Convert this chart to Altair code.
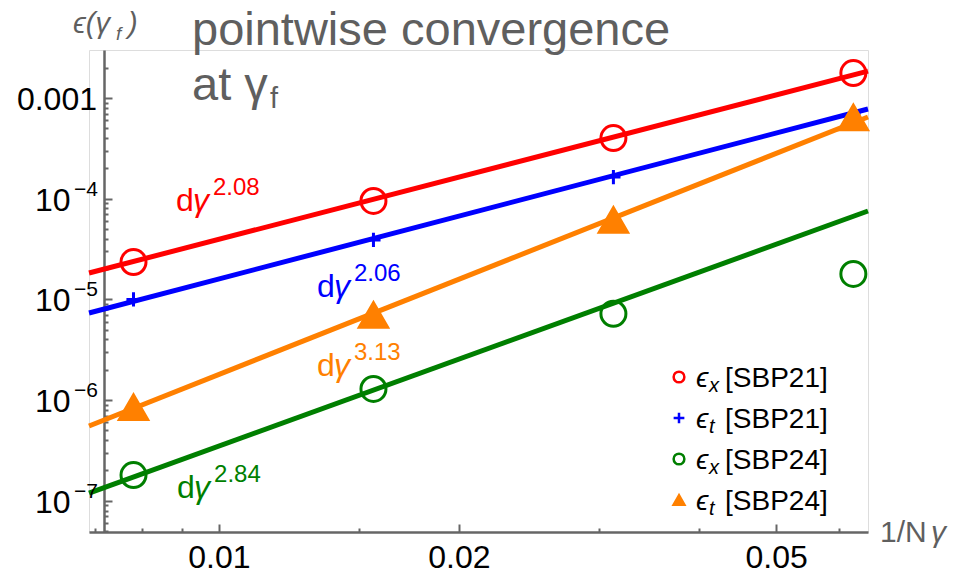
import altair as alt
import pandas as pd

# ---------------- data ----------------
x_vals = [1/128, 1/64, 1/32, 1/16]
ex_sbp21 = [2.35e-5, 9.5e-5, 4.0e-4, 1.77e-3]
et_sbp21 = [1.0e-5, 3.9e-5, 1.64e-4, 7.0e-4]
ex_sbp24 = [1.8e-7, 1.29e-6, 7.2e-6, 1.79e-5]
et_sbp24 = [8.5e-7, 7.0e-6, 6.15e-5, 6.4e-4]

series = ["ϵx[SBP21]", "ϵt[SBP21]", "ϵx[SBP24]", "ϵt[SBP24]"]
leg_sub = ["x", "t", "x", "t"]
leg_tag = ["[SBP21]", "[SBP21]", "[SBP24]", "[SBP24]"]
colors = ["#FF0000", "#0000FF", "#007F00", "#FF8000"]
shapes = ["circle", "M-1,0H1M0,-1V1", "circle", "triangle-up"]
fills = ["transparent", "transparent", "transparent", "#FF8000"]
sizes = [625, 200, 625, 800]

# fitted power-law lines (end points)
fit_x = [0.00687, 0.0652]
fit_ex21 = [1.83e-5, 1.85e-3]
fit_et21 = [7.33e-6, 7.78e-4]
fit_ex24 = [1.19e-7, 7.55e-5]
fit_et24 = [5.53e-7, 6.48e-4]

# slope annotations (same order as series)
ann_x = [0.00883, 0.01327, 0.00886, 0.01327]
ann_y = [7.55e-5, 1.057e-5, 1.067e-7, 1.734e-6]
ann_exp = ["2.08", "2.06", "2.84", "3.13"]

# axis ticks / labels
x_major = [0.01, 0.02, 0.05]
x_minor = [0.007, 0.008, 0.009, 0.015, 0.03, 0.04, 0.06]
y_major = [1e-3, 1e-4, 1e-5, 1e-6, 1e-7]
y_minor = [m * 10.0 ** e for e in range(-8, -2) for m in range(2, 10)
           if 4.9e-8 <= m * 10.0 ** e <= 2.99e-3]
ylab_vals = [1e-4, 1e-5, 1e-6, 1e-7]
ylab_sup = ["−4", "−5", "−6", "−7"]

X_DOMAIN = [0.00687, 0.0652]
Y_DOMAIN = [4.9e-8, 2.997e-3]
W, H = 779, 482
AX = "#666666"
GRAY = "#5f5f5f"
FONT = "Liberation Sans"

pts = pd.DataFrame({
    "x": x_vals * 4,
    "y": ex_sbp21 + et_sbp21 + ex_sbp24 + et_sbp24,
    "s": sum([[s] * 4 for s in series], []),
})
fits = pd.DataFrame({
    "x": fit_x * 4,
    "y": fit_ex21 + fit_et21 + fit_ex24 + fit_et24,
    "s": sum([[s] * 2 for s in series], []),
})
ann = pd.DataFrame({"x": ann_x, "y": ann_y, "e": ann_exp, "s": series})
leg_df = pd.DataFrame({"s": series, "sub": leg_sub, "tag": leg_tag})

xs = alt.Scale(type="log", domain=X_DOMAIN, nice=False, zero=False)
ys = alt.Scale(type="log", domain=Y_DOMAIN, nice=False, zero=False)
col = alt.Color("s:N", scale=alt.Scale(domain=series, range=colors), legend=None)
stroke = alt.Stroke("s:N", scale=alt.Scale(domain=series, range=colors), legend=None)
fill = alt.Fill("s:N", scale=alt.Scale(domain=series, range=fills), legend=None)
shape = alt.Shape("s:N", scale=alt.Scale(domain=series, range=shapes), legend=None)
leg_y = alt.Y("s:N", scale=alt.Scale(type="point", domain=series, range=[327, 450], padding=0),
              axis=None)

def tick_axis_x(vals, size):
    return alt.Axis(orient="top", offset=-H, values=vals, labels=False, domain=False,
                    grid=False, ticks=True, tickSize=size, tickWidth=2, tickColor=AX, title=None)

def tick_axis_y(vals, size):
    return alt.Axis(orient="right", offset=-(W - 15), values=vals, labels=False, domain=False,
                    grid=False, ticks=True, tickSize=size, tickWidth=2, tickColor=AX, title=None)

lines = alt.Chart(fits).mark_line(strokeWidth=5, clip=False).encode(
    x=alt.X("x:Q", scale=xs, axis=alt.Axis(orient="bottom", values=x_major, format="~g",
            labelFontSize=32, labelColor="black", labelFont=FONT, ticks=False, labelPadding=10,
            domainColor=AX, domainWidth=2.5, grid=False, title=None)),
    y=alt.Y("y:Q", scale=ys, axis=alt.Axis(orient="left", offset=-15, labels=False, ticks=False,
            domainColor=AX, domainWidth=2.5, grid=False, title=None)),
    color=col,
    detail="s:N",
)

points = alt.Chart(pts).mark_point(strokeWidth=3, opacity=1).encode(
    x=alt.X("x:Q", scale=xs, axis=tick_axis_x(x_major, 8)),
    y=alt.Y("y:Q", scale=ys, axis=tick_axis_y(y_major, 8)),
    stroke=stroke, fill=fill, shape=shape,
    size=alt.Size("s:N", scale=alt.Scale(type="ordinal", domain=series, range=sizes), legend=None),
)

ann_d = alt.Chart(ann).mark_text(text="d", fontSize=32, font=FONT, align="left",
                                 baseline="alphabetic").encode(
    x=alt.X("x:Q", scale=xs, axis=tick_axis_x(x_minor, 4)),
    y=alt.Y("y:Q", scale=ys, axis=tick_axis_y(y_minor, 4)),
    color=col,
)
ann_g = alt.Chart(ann).mark_text(text="γ", fontSize=32, font=FONT, fontStyle="italic",
                                 align="left", baseline="alphabetic", dx=17).encode(
    x=alt.X("x:Q", scale=xs, axis=None), y=alt.Y("y:Q", scale=ys, axis=None), color=col,
)
ann_e = alt.Chart(ann).mark_text(fontSize=24, font=FONT, align="left",
                                 baseline="alphabetic", dx=37, dy=-16).encode(
    x=alt.X("x:Q", scale=xs, axis=None), y=alt.Y("y:Q", scale=ys, axis=None),
    text="e:N", color=col,
)

# legend (symbols + labels)
leg_sym = alt.Chart(leg_df).mark_point(strokeWidth=2.5, opacity=1, size=115).encode(
    x=alt.value(590), y=leg_y, stroke=stroke, fill=fill, shape=shape)
leg_eps = alt.Chart(leg_df).mark_text(text="ϵ", fontSize=28, font=FONT, fontStyle="italic",
                                      align="left", baseline="alphabetic", dy=10,
                                      color="black").encode(x=alt.value(607), y=leg_y)
leg_sb = alt.Chart(leg_df).mark_text(fontSize=20, font=FONT, fontStyle="italic", align="left",
                                     baseline="alphabetic", dy=15, color="black").encode(
    x=alt.value(620), y=leg_y, text="sub:N")
leg_tg = alt.Chart(leg_df).mark_text(fontSize=28, font=FONT, align="left",
                                     baseline="alphabetic", dy=10, color="black").encode(
    x=alt.value(636), y=leg_y, text="tag:N")

# y tick labels
ylab_df = pd.DataFrame({"v": ylab_vals, "sup": ylab_sup})
ylab_base = alt.Chart(ylab_df).mark_text(text="10", fontSize=32, font=FONT, align="left",
                                         baseline="alphabetic", dy=12, color="black").encode(
    x=alt.value(-54), y=alt.Y("v:Q", scale=ys, axis=None))
ylab_sup_l = alt.Chart(ylab_df).mark_text(fontSize=21, font=FONT, align="right",
                                          baseline="alphabetic", dy=-3, color="black").encode(
    x=alt.value(9), y=alt.Y("v:Q", scale=ys, axis=None), text="sup:N")
ylab_top = alt.Chart(pd.DataFrame({"v": [1e-3]})).mark_text(
    text="0.001", fontSize=32, font=FONT, align="right", baseline="alphabetic", dy=12,
    color="black").encode(x=alt.value(8), y=alt.Y("v:Q", scale=ys, axis=None))

one = pd.DataFrame({"k": [0]})

def label(txt, x, y, size, color=GRAY, style="normal", align="left"):
    return alt.Chart(one).mark_text(text=txt, fontSize=size, font=FONT, fontStyle=style,
                                    align=align, baseline="alphabetic", color=color).encode(
        x=alt.value(x), y=alt.value(y))

texts = [
    label("pointwise convergence", 103, -5, 47),
    label("at γ", 103, 50, 47),
    label("f", 181, 58, 29),
    label("ϵ(γ", -16, -17, 29, style="italic"),
    label("f", 27, -10, 19, style="italic"),
    label(")", 39, -17, 29, style="italic"),
    label("1/N", 791, 492, 30),
    label("γ", 842, 492, 30, style="italic"),
]

chart = alt.layer(lines, points, ann_d, ann_g, ann_e, leg_sym, leg_eps, leg_sb, leg_tg,
                  ylab_base, ylab_sup_l, ylab_top, *texts).resolve_axis(
    x="independent", y="independent"
).resolve_scale(y="independent").properties(
    width=W, height=H,
    autosize=alt.AutoSizeParams(type="none"),
    padding={"left": 89, "top": 50, "right": 85, "bottom": 42},
).configure_view(stroke=None).configure(font=FONT, background="white")

chart.save("out.html", embed_options={"renderer": "svg", "actions": False})
